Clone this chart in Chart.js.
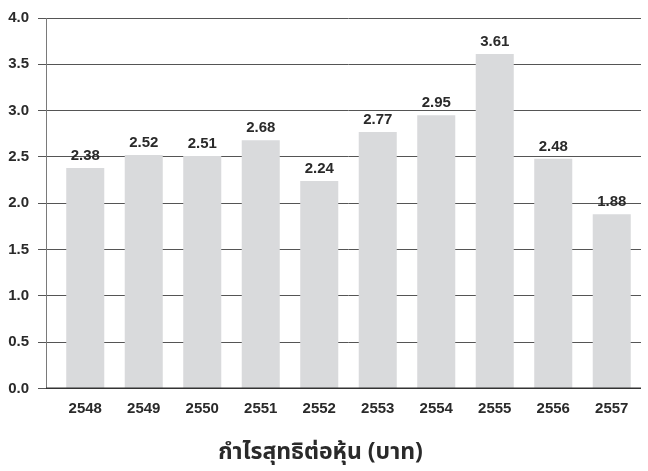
<!DOCTYPE html>
<html>
<head>
<meta charset="utf-8">
<script src="https://cdn.jsdelivr.net/npm/chart.js@4"></script>
<style>
html,body{margin:0;padding:0;background:#fff;}
#wrap{width:648px;height:471px;position:relative;}
</style>
</head>
<body>
<div id="wrap"><canvas id="c" width="648" height="471"></canvas></div>
<script>
const categories = ["2548","2549","2550","2551","2552","2553","2554","2555","2556","2557"];
const epsValues = [2.38, 2.52, 2.51, 2.68, 2.24, 2.77, 2.95, 3.61, 2.48, 1.88];
const yTicks = [0, 0.5, 1.0, 1.5, 2.0, 2.5, 3.0, 3.5, 4.0];
const chartTitle = "กำไรสุทธิต่อหุ้น (บาท)";

const FONT = "'Liberation Sans', Arial, Helvetica, sans-serif";

const valueLabels = {
  id: 'valueLabels',
  afterDatasetsDraw(chart) {
    const ctx = chart.ctx;
    const meta = chart.getDatasetMeta(0);
    ctx.save();
    ctx.font = "bold 15px " + FONT;
    ctx.fillStyle = "#2a2a2a";
    ctx.textAlign = "center";
    ctx.textBaseline = "alphabetic";
    meta.data.forEach((bar, i) => {
      ctx.fillText(epsValues[i].toFixed(2), bar.x, bar.y - 8);
    });
    ctx.restore();
  }
};

const axisLines = {
  id: 'axisLines',
  afterDatasetsDraw(chart) {
    const ctx = chart.ctx;
    const a = chart.chartArea;
    const y0 = chart.scales.y.getPixelForValue(0);
    const yTop = chart.scales.y.getPixelForValue(4);
    const xAxis = a.left - 10;
    ctx.save();
    ctx.lineWidth = 1;
    ctx.strokeStyle = "#7a7a7a";
    ctx.beginPath();
    ctx.moveTo(xAxis + 0.5, yTop);
    ctx.lineTo(xAxis + 0.5, y0);
    ctx.stroke();
    ctx.strokeStyle = "#333";
    ctx.lineWidth = 1.5;
    ctx.beginPath();
    ctx.moveTo(xAxis, Math.round(y0) + 0.25);
    ctx.lineTo(a.right, Math.round(y0) + 0.25);
    ctx.stroke();
    ctx.restore();
  }
};

new Chart(document.getElementById('c'), {
  type: 'bar',
  data: {
    labels: categories,
    datasets: [{
      data: epsValues,
      backgroundColor: '#d9dadc',
      borderWidth: 0,
      categoryPercentage: 1.0,
      barPercentage: 0.65
    }]
  },
  options: {
    responsive: false,
    animation: false,
    devicePixelRatio: 1,
    layout: { padding: { left: 0, right: 7, top: 3, bottom: 0 } },
    plugins: {
      legend: { display: false },
      tooltip: { enabled: false },
      title: {
        display: true,
        position: 'bottom',
        text: chartTitle,
        color: '#2a2a2a',
        font: { family: "'Noto Sans Thai', 'Noto Sans', 'DejaVu Sans', sans-serif", size: 23, weight: 'bold' },
        padding: { top: 6, bottom: 3 }
      }
    },
    scales: {
      x: {
        grid: { display: false, drawTicks: false },
        border: { display: false },
        ticks: {
          color: '#2a2a2a',
          font: { family: FONT, size: 15, weight: 'bold' },
          padding: 11,
          maxRotation: 0
        },
        afterFit(scale) { scale.height = 46; }
      },
      y: {
        min: 0,
        max: 4,
        afterBuildTicks(scale) { scale.ticks = yTicks.map(v => ({ value: v })); },
        grid: { color: '#555', lineWidth: 1, tickLength: 18, drawTicks: true },
        border: { display: false },
        ticks: {
          color: '#2a2a2a',
          font: { family: FONT, size: 15, weight: 'bold' },
          padding: 9,
          callback: (v) => Number(v).toFixed(1)
        },
        afterFit(scale) { scale.width = 56; }
      }
    }
  },
  plugins: [valueLabels, axisLines]
});
</script>
</body>
</html>
